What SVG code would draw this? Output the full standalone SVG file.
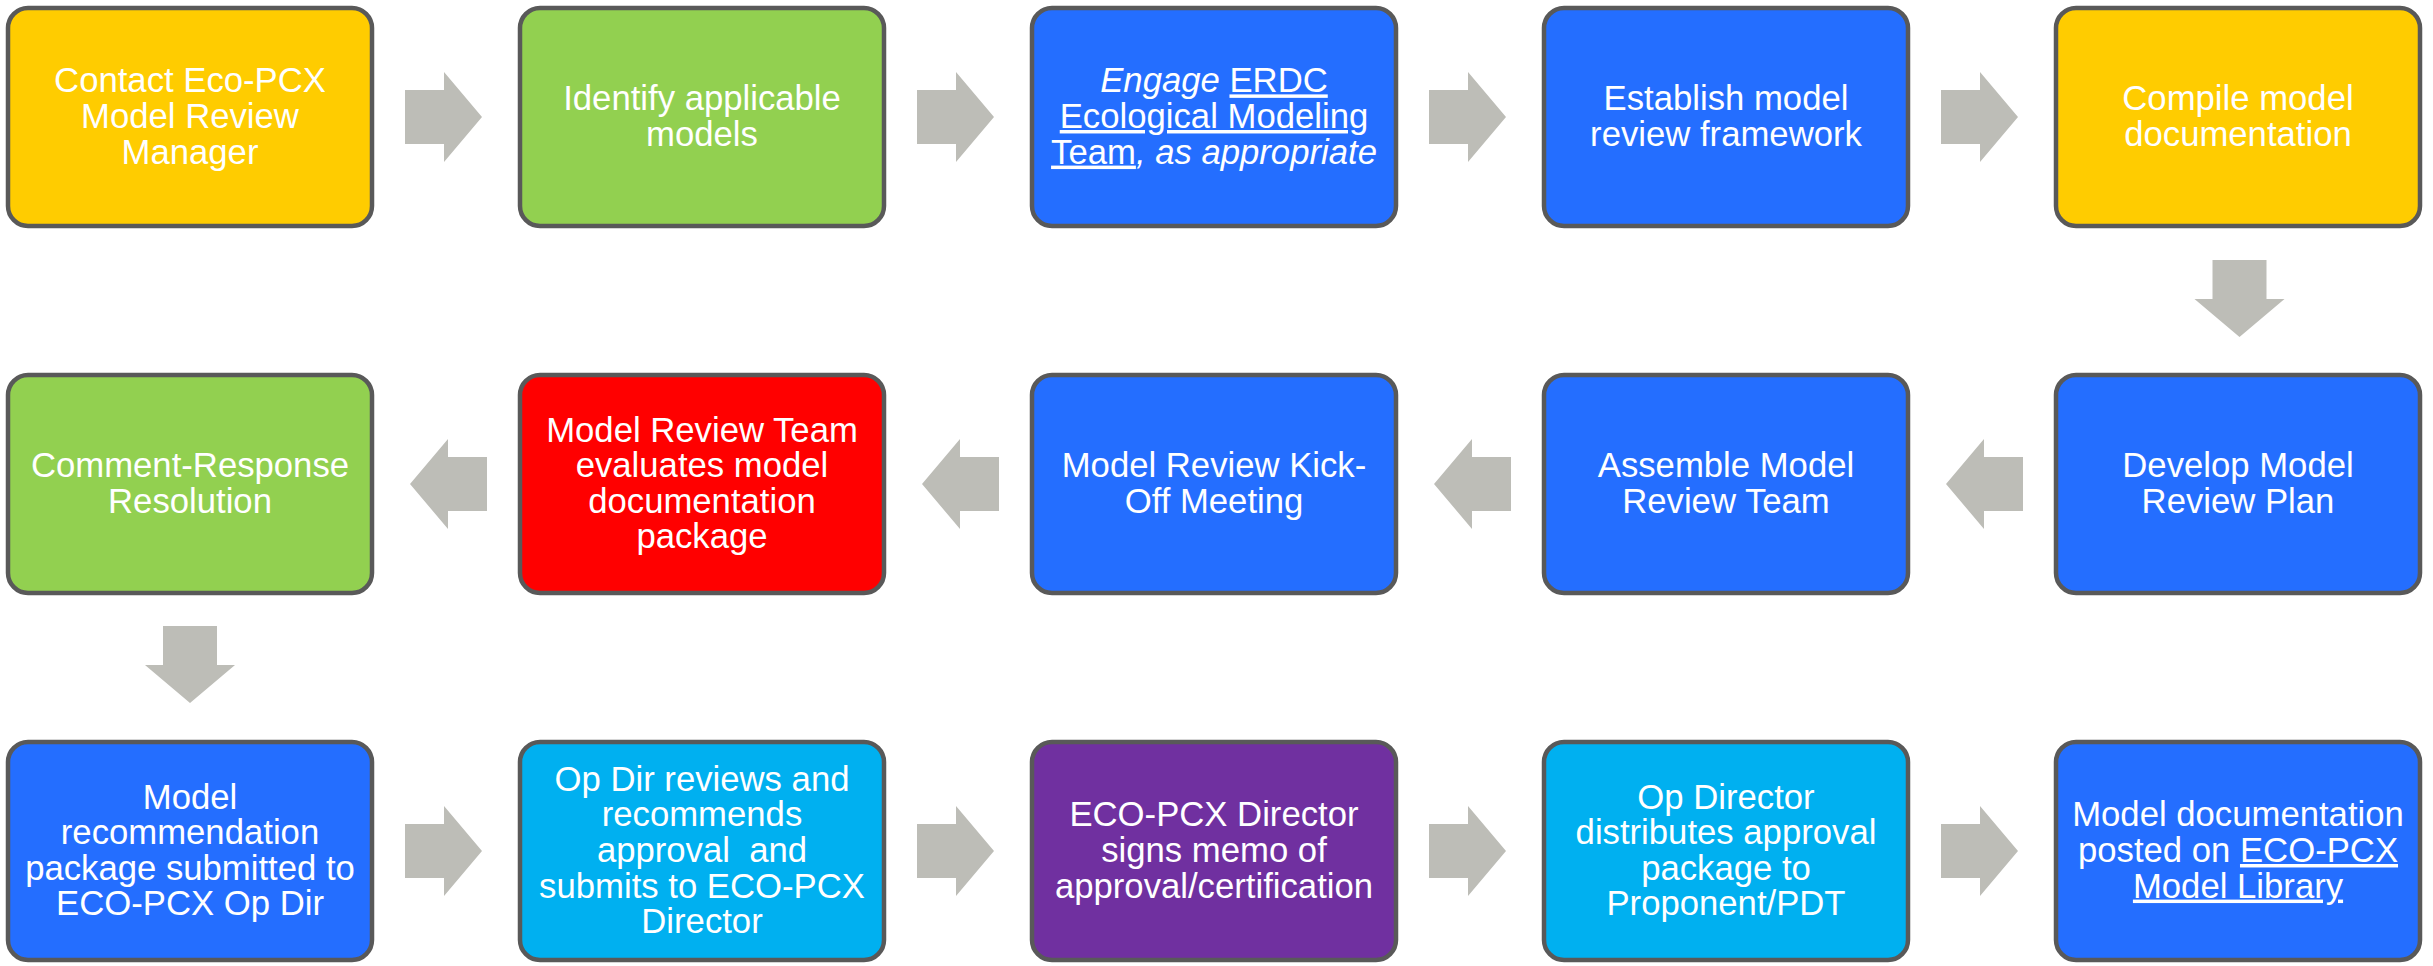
<svg xmlns="http://www.w3.org/2000/svg" xmlns:xlink="http://www.w3.org/1999/xlink" width="2433" height="966" viewBox="0 0 2433 966">
<style>
.box{stroke:#595959;stroke-width:4.5}
.t{font-family:"Liberation Sans",Arial,sans-serif;font-size:34.7px;fill:#ffffff;text-anchor:middle}
.yel{fill:#FFCC00}.grn{fill:#92D050}.blu{fill:#246EFF}.red{fill:#FF0000}.pur{fill:#7030A0}.cyn{fill:#00B0F0}
.arr{fill:#BDBDB7}
.i{font-style:italic}.u{text-decoration:underline}
</style>
<defs>
<path id="ar" d="M0,-27 H39 V-45 L77,0 L39,45 V27 H0 Z"/>
</defs>
<rect width="2433" height="966" fill="#ffffff"/>
<g id="connectors">
<use xlink:href="#ar" class="arr" transform="translate(405,117)"/>
<use xlink:href="#ar" class="arr" transform="translate(917,117)"/>
<use xlink:href="#ar" class="arr" transform="translate(1429,117)"/>
<use xlink:href="#ar" class="arr" transform="translate(1941,117)"/>
<use xlink:href="#ar" class="arr" transform="translate(2239.5,260) rotate(90)"/>
<use xlink:href="#ar" class="arr" transform="translate(2023,484) scale(-1,1)"/>
<use xlink:href="#ar" class="arr" transform="translate(1511,484) scale(-1,1)"/>
<use xlink:href="#ar" class="arr" transform="translate(999,484) scale(-1,1)"/>
<use xlink:href="#ar" class="arr" transform="translate(487,484) scale(-1,1)"/>
<use xlink:href="#ar" class="arr" transform="translate(190,626) rotate(90)"/>
<use xlink:href="#ar" class="arr" transform="translate(405,851)"/>
<use xlink:href="#ar" class="arr" transform="translate(917,851)"/>
<use xlink:href="#ar" class="arr" transform="translate(1429,851)"/>
<use xlink:href="#ar" class="arr" transform="translate(1941,851)"/>
</g>
<g id="n1"><rect class="box yel" x="8" y="8" width="364" height="218" rx="20"/>
<text class="t"><tspan x="190" y="92.4">Contact Eco-PCX</tspan><tspan x="190" y="128">Model Review</tspan><tspan x="190" y="163.6">Manager</tspan></text></g>
<g id="n2"><rect class="box grn" x="520" y="8" width="364" height="218" rx="20"/>
<text class="t"><tspan x="702" y="110.2">Identify applicable</tspan><tspan x="702" y="145.8">models</tspan></text></g>
<g id="n3"><rect class="box blu" x="1032" y="8" width="364" height="218" rx="20"/>
<text class="t"><tspan x="1214" y="92.4"><tspan class="i">Engage</tspan> <tspan class="u">ERDC</tspan></tspan><tspan x="1214" y="128" class="u">Ecological Modeling</tspan><tspan x="1214" y="163.6"><tspan class="u">Team</tspan><tspan class="i">, as appropriate</tspan></tspan></text></g>
<g id="n4"><rect class="box blu" x="1544" y="8" width="364" height="218" rx="20"/>
<text class="t"><tspan x="1726" y="110.2">Establish model</tspan><tspan x="1726" y="145.8">review framework</tspan></text></g>
<g id="n5"><rect class="box yel" x="2056" y="8" width="364" height="218" rx="20"/>
<text class="t"><tspan x="2238" y="110.2">Compile model</tspan><tspan x="2238" y="145.8">documentation</tspan></text></g>
<g id="n6"><rect class="box blu" x="2056" y="375" width="364" height="218" rx="20"/>
<text class="t"><tspan x="2238" y="477.2">Develop Model</tspan><tspan x="2238" y="512.8">Review Plan</tspan></text></g>
<g id="n7"><rect class="box blu" x="1544" y="375" width="364" height="218" rx="20"/>
<text class="t"><tspan x="1726" y="477.2">Assemble Model</tspan><tspan x="1726" y="512.8">Review Team</tspan></text></g>
<g id="n8"><rect class="box blu" x="1032" y="375" width="364" height="218" rx="20"/>
<text class="t"><tspan x="1214" y="477.2">Model Review Kick-</tspan><tspan x="1214" y="512.8">Off Meeting</tspan></text></g>
<g id="n9"><rect class="box red" x="520" y="375" width="364" height="218" rx="20"/>
<text class="t"><tspan x="702" y="441.6">Model Review Team</tspan><tspan x="702" y="477.2">evaluates model</tspan><tspan x="702" y="512.8">documentation</tspan><tspan x="702" y="548.4">package</tspan></text></g>
<g id="n10"><rect class="box grn" x="8" y="375" width="364" height="218" rx="20"/>
<text class="t"><tspan x="190" y="477.2">Comment-Response</tspan><tspan x="190" y="512.8">Resolution</tspan></text></g>
<g id="n11"><rect class="box blu" x="8" y="742" width="364" height="218" rx="20"/>
<text class="t"><tspan x="190" y="808.6">Model</tspan><tspan x="190" y="844.2">recommendation</tspan><tspan x="190" y="879.8">package submitted to</tspan><tspan x="190" y="915.4">ECO-PCX Op Dir</tspan></text></g>
<g id="n12"><rect class="box cyn" x="520" y="742" width="364" height="218" rx="20"/>
<text class="t"><tspan x="702" y="790.8">Op Dir reviews and</tspan><tspan x="702" y="826.4">recommends</tspan><tspan x="702" y="862">approval&#160; and</tspan><tspan x="702" y="897.6">submits to ECO-PCX</tspan><tspan x="702" y="933.2">Director</tspan></text></g>
<g id="n13"><rect class="box pur" x="1032" y="742" width="364" height="218" rx="20"/>
<text class="t"><tspan x="1214" y="826.4">ECO-PCX Director</tspan><tspan x="1214" y="862">signs memo of</tspan><tspan x="1214" y="897.6">approval/certification</tspan></text></g>
<g id="n14"><rect class="box cyn" x="1544" y="742" width="364" height="218" rx="20"/>
<text class="t"><tspan x="1726" y="808.6">Op Director</tspan><tspan x="1726" y="844.2">distributes approval</tspan><tspan x="1726" y="879.8">package to</tspan><tspan x="1726" y="915.4">Proponent/PDT</tspan></text></g>
<g id="n15"><rect class="box blu" x="2056" y="742" width="364" height="218" rx="20"/>
<text class="t"><tspan x="2238" y="826.4">Model documentation</tspan><tspan x="2238" y="862">posted on <tspan class="u">ECO-PCX</tspan></tspan><tspan x="2238" y="897.6" class="u">Model Library</tspan></text></g>
</svg>
